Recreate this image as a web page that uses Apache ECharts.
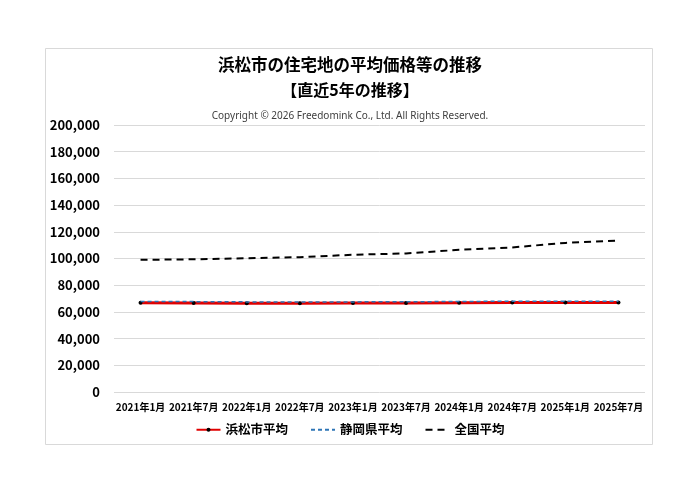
<!DOCTYPE html>
<html><head><meta charset="utf-8">
<script src="https://cdn.jsdelivr.net/npm/echarts@6/dist/echarts.min.js"></script>
<style>html,body{margin:0;padding:0;background:#fff;}#c{width:700px;height:495px;}</style>
</head><body><div id="c"></div>
<script>
const categories = ['2021年1月','2021年7月','2022年1月','2022年7月','2023年1月','2023年7月','2024年1月','2024年7月','2025年1月','2025年7月'];
const hamamatsu = [66800, 66700, 66500, 66500, 66600, 66700, 66900, 67100, 67000, 67100];
const shizuoka = [67800, 67700, 67500, 67500, 67500, 67600, 67800, 68000, 67900, 68000];
const national = [99000, 99400, 100200, 101000, 102800, 103800, 106500, 108300, 111700, 113500];
const F = '"Noto Sans CJK JP", "Noto Sans", sans-serif';
const chart = echarts.init(document.getElementById('c'));
chart.setOption({
  backgroundColor: '#fff',
  animation: false,
  graphic: [{type:'rect', shape:{x:45.5,y:48.5,width:607,height:396}, style:{fill:'none', stroke:'#d9d9d9', lineWidth:1}, z:-1}],
  title: [
    {text:'浜松市の住宅地の平均価格等の推移', left:'center', top:51, textStyle:{fontFamily:F, fontSize:16.5, fontWeight:'bold', color:'#000'}},
    {text:'【直近5年の推移】', left:'center', top:77, textStyle:{fontFamily:F, fontSize:16, fontWeight:'bold', color:'#000'}},
    {text:'Copyright © 2026 Freedomink Co., Ltd. All Rights Reserved.', left:'center', top:106, textStyle:{fontFamily:'"Noto Sans", sans-serif', fontSize:10, fontWeight:'normal', color:'#404040'}}
  ],
  legend: {
    bottom: 54, left:'center', itemGap: 22, itemWidth: 24, itemHeight: 5,
    textStyle:{fontFamily:F, fontSize:12.5, fontWeight:'bold', color:'#000'},
    data: [
      {name:'浜松市平均'},
      {name:'静岡県平均', itemStyle:{opacity:0}},
      {name:'全国平均', itemStyle:{opacity:0}}
    ]
  },
  grid: {left:114, right:55, top:125, bottom:103},
  xAxis: {
    type:'category', data: categories, boundaryGap:true,
    axisLine:{show:false}, axisTick:{show:false},
    axisLabel:{fontFamily:F, fontSize:10, fontWeight:'bold', color:'#000', interval:0, margin:10}
  },
  yAxis: {
    type:'value', min:0, max:200000, interval:20000,
    axisLine:{show:false}, axisTick:{show:false},
    splitLine:{lineStyle:{color:'#d9d9d9', width:1}},
    axisLabel:{fontFamily:F, fontSize:13, fontWeight:'bold', color:'#000', margin:14,
      formatter: v => v.toLocaleString('en-US')}
  },
  series: [
    {name:'浜松市平均', type:'line', data: hamamatsu, symbol:'circle', symbolSize:4,
     itemStyle:{color:'#000'}, lineStyle:{color:'#e00000', width:3}, z:2},
    {name:'静岡県平均', type:'line', data: shizuoka, symbol:'none',
     itemStyle:{color:'#2e75b6'}, lineStyle:{color:'#2e75b6', width:1.5, type:[4,3]}, z:3},
    {name:'全国平均', type:'line', data: national, symbol:'none',
     itemStyle:{color:'#000'}, lineStyle:{color:'#000', width:2, type:[7,5]}, z:3}
  ]
});
</script></body></html>
